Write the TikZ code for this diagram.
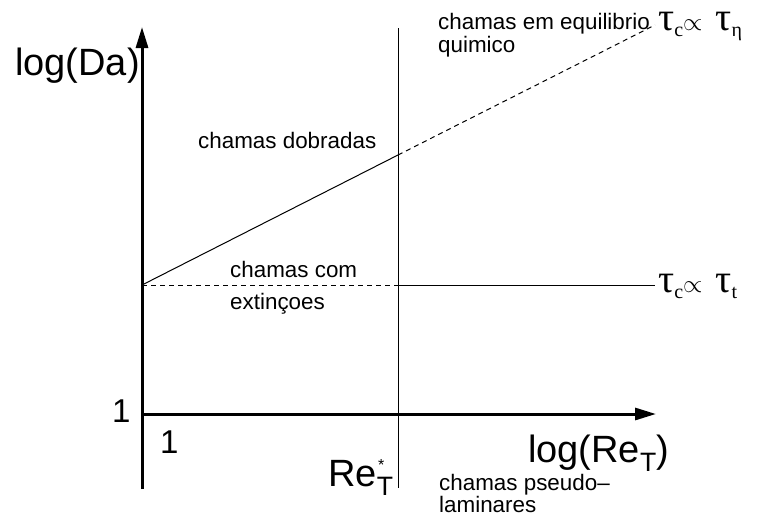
\documentclass[tikz,border=0pt]{standalone}
\usepackage{fontspec}
\setmainfont{Liberation Sans}
\newfontfamily\taufont{Liberation Serif}
\usetikzlibrary{arrows.meta}
\tikzset{
  axis/.style={line width=3pt,-{Triangle[length=21pt,width=12pt]}},
  thin/.style={line width=1pt},
  dsh/.style={line width=1pt,dash pattern=on 5pt off 4pt},
  big/.style={inner sep=0pt,anchor=base west,font=\fontsize{38}{40}\selectfont},
  one/.style={inner sep=0pt,anchor=base west,font=\fontsize{33}{36}\selectfont},
  small/.style={inner sep=0pt,anchor=base west,font=\fontsize{22.4}{24}\selectfont},
  tau/.style={inner sep=0pt,anchor=base west,font=\taufont\fontsize{40}{42}\selectfont}
}
\newcommand{\tsub}[1]{\raisebox{-6pt}{\fontsize{20}{20}\selectfont #1}}
\begin{document}
\begin{tikzpicture}[x=1pt,y=-1pt]
\useasboundingbox (0,0) rectangle (767,520);
% coordinates
\coordinate (ybot) at (142,489);
\coordinate (ytop) at (142,27);
\coordinate (xl) at (142,414);
\coordinate (xr) at (656,414);
\coordinate (vtop) at (398,28);
\coordinate (vbot) at (398,488);
\coordinate (o) at (142,285);
\coordinate (k) at (398,155);
\coordinate (dend) at (655,25);
\coordinate (h) at (398,285);
\coordinate (hend) at (655,285);
% lines
\draw[thin] (vtop) -- (vbot);
\draw[thin] (o) -- (k);
\draw[dsh] (k) -- (dend);
\draw[dsh] (o) -- (h);
\draw[thin] (h) -- (hend);
\draw[axis] (xl) -- (xr);
\draw[axis] (ybot) -- (ytop);
% labels
\node[big] (lda) at (15,75) {log(Da)};
\node[big] (lre) at (528,462) {log(Re\textsubscript{T})};
\node[big] (res) at (328,486) {Re\textsubscript{T}};
\node[inner sep=0pt,anchor=base west,font=\fontsize{16}{16}\selectfont] (star) at (378,470) {*};
\node[one] (o1) at (112,422) {1};
\node[one] (o2) at (160,453) {1};
\node[small] (cd) at (198,148) {chamas dobradas};
\node[small] (cc) at (230,277) {chamas com};
\node[small] (ce) at (230,309) {extinçoes};
\node[small] (cq1) at (438,29) {chamas em equilibrio};
\node[small] (cq2) at (438,52) {quimico};
\node[small] (cp1) at (439,490) {chamas pseudo–};
\node[small] (cp2) at (439,512) {laminares};
\node[tau] (t1) at (658,30) {τ\tsub{c}$\propto$\hspace{13pt}τ\tsub{η}};
\node[tau] (t2) at (658,292) {τ\tsub{c}$\propto$\hspace{13pt}τ\tsub{t}};
\end{tikzpicture}
\end{document}
